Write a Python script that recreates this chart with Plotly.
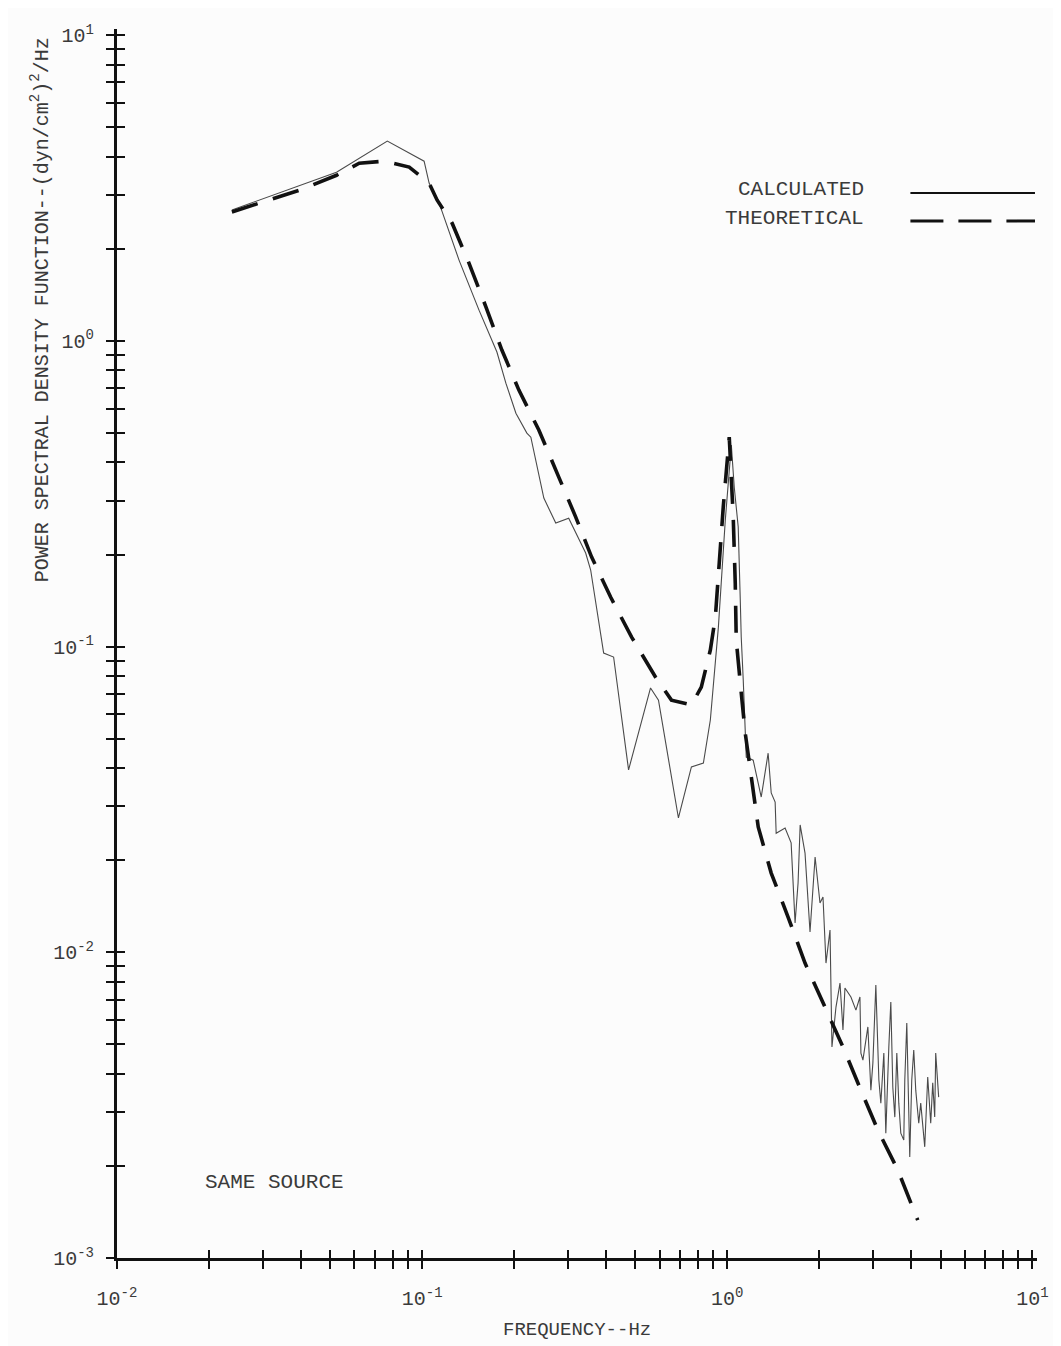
import plotly.graph_objects as go

# ---- data ----
calc_freq = [0.0238, 0.0524, 0.0769, 0.1015, 0.1054, 0.1137, 0.1321, 0.1536, 0.1758, 0.1881,
             0.2029, 0.2204, 0.2271, 0.2505, 0.2741, 0.3022, 0.3435, 0.3567, 0.3934, 0.4241,
             0.4748, 0.5604, 0.5950, 0.6916, 0.7628, 0.835, 0.880, 0.935, 0.985, 1.031,
             1.054, 1.086, 1.103, 1.111, 1.128, 1.154, 1.216, 1.292, 1.361, 1.393,
             1.435, 1.446, 1.547, 1.619, 1.668, 1.706, 1.733, 1.798, 1.867, 1.940,
             2.013, 2.059, 2.106, 2.171, 2.203, 2.271, 2.341, 2.394, 2.430, 2.542,
             2.640, 2.721, 2.741, 2.783, 2.889, 2.955, 3.000, 3.068, 3.139, 3.186,
             3.259, 3.308, 3.384, 3.435, 3.487, 3.540, 3.594, 3.648, 3.704, 3.788,
             3.817, 3.875, 3.963, 4.023, 4.084, 4.146, 4.241, 4.305, 4.437, 4.538,
             4.642, 4.713, 4.784, 4.820, 4.929]
calc_psd = [2.68, 3.56, 4.50, 3.87, 3.28, 2.82, 1.837, 1.26, 0.919, 0.727,
            0.580, 0.499, 0.484, 0.306, 0.2534, 0.263, 0.2022, 0.178, 0.0952, 0.0924,
            0.0395, 0.0732, 0.0668, 0.0275, 0.0404, 0.0416, 0.0575, 0.1158, 0.259, 0.456,
            0.332, 0.246, 0.142, 0.1074, 0.0777, 0.0435, 0.0425, 0.0322, 0.0448, 0.0332,
            0.0310, 0.0245, 0.0255, 0.0228, 0.01247, 0.01684, 0.0261, 0.0211, 0.01165, 0.0205,
            0.01449, 0.01516, 0.00922, 0.01182, 0.0049, 0.00662, 0.00793, 0.00557, 0.00764, 0.00714,
            0.00647, 0.00714, 0.00468, 0.00444, 0.0057, 0.00354, 0.00434, 0.00781, 0.00382, 0.00321,
            0.00468, 0.00256, 0.0049, 0.00688, 0.00362, 0.00289, 0.00468, 0.00321, 0.00256, 0.00243,
            0.00382, 0.00587, 0.00214, 0.00382, 0.00479, 0.00354, 0.00276, 0.00321, 0.00231, 0.00391,
            0.00276, 0.00374, 0.00289, 0.00468, 0.00336]

theo_freq = [0.0238, 0.0396, 0.0524, 0.0622, 0.0751, 0.0907, 0.1054, 0.1119, 0.1253, 0.1424,
             0.1619, 0.1825, 0.2075, 0.2412, 0.2804, 0.3187, 0.3593, 0.4146, 0.4858, 0.5816,
             0.6561, 0.7628, 0.822, 0.880, 0.914, 0.935, 0.970, 1.015, 1.046, 1.062,
             1.070, 1.103, 1.145, 1.263, 1.393, 1.582, 1.798, 2.090, 2.394, 2.741,
             3.115, 3.621, 4.209]
theo_psd = [2.64, 3.11, 3.48, 3.81, 3.87, 3.70, 3.28, 2.89, 2.43, 1.796,
            1.29, 0.933, 0.690, 0.511, 0.3584, 0.2652, 0.1962, 0.1452, 0.1074, 0.0795,
            0.0668, 0.0644, 0.0737, 0.0974, 0.1249, 0.174, 0.286, 0.484, 0.2652, 0.1613,
            0.1050, 0.0760, 0.0521, 0.0257, 0.01816, 0.01304, 0.00922, 0.00662, 0.0049, 0.00354,
            0.00262, 0.00194, 0.00133]

x_tickvals = [0.01, 0.1, 1, 10]
x_ticktext = ["10<sup>-2</sup>", "10<sup>-1</sup>", "10<sup>0</sup>", "10<sup>1</sup>"]
y_tickvals = [0.001, 0.01, 0.1, 1, 10]
y_ticktext = ["10<sup>-3</sup>", "10<sup>-2</sup>", "10<sup>-1</sup>", "10<sup>0</sup>", "10<sup>1</sup>"]

series_names = ["CALCULATED", "THEORETICAL"]
note_text = "SAME SOURCE"
x_title = "FREQUENCY--Hz"
y_title = "POWER SPECTRAL DENSITY FUNCTION--(dyn/cm<sup>2</sup>)<sup>2</sup>/Hz"

# ---- styling ----
FONT = "Liberation Mono"
INK = "#111111"
TXT = "#3a3a3a"
BG = "#fcfcfc"
THEO_DASH = "27px,16px"

x_minor = [m * 10.0 ** e for e in (-2, -1, 0) for m in range(2, 10)]
y_minor = [m * 10.0 ** e for e in (-3, -2, -1, 0) for m in range(2, 10)]

fig = go.Figure()
fig.add_trace(go.Scatter(x=calc_freq, y=calc_psd, mode="lines", name=series_names[0],
                         line=dict(color="#4a4a4a", width=1.1), showlegend=False))
fig.add_trace(go.Scatter(x=theo_freq, y=theo_psd, mode="lines", name=series_names[1],
                         line=dict(color=INK, width=3.6, dash=THEO_DASH), showlegend=False))
# helper trace so the overlay axes (inner half of the cross ticks) are drawn
fig.add_trace(go.Scatter(x=[None], y=[None], xaxis="x2", yaxis="y2", mode="lines",
                         showlegend=False, hoverinfo="skip"))

tick_common = dict(ticklen=8, tickwidth=2, tickcolor=INK)
XR = [-2, 1.015]
YR = [-3, 1.02]

fig.update_layout(
    width=1053, height=1338,
    margin=dict(l=109, r=21, t=21, b=88),
    paper_bgcolor=BG, plot_bgcolor=BG,
    font=dict(family=FONT, color=TXT),
    xaxis=dict(type="log", range=XR, showgrid=False, zeroline=False,
               showline=True, linecolor=INK, linewidth=3,
               ticks="outside", tickvals=x_tickvals, ticktext=x_ticktext,
               tickfont=dict(family=FONT, size=20, color=TXT), ticklabelstandoff=12,
               minor=dict(ticks="outside", tickvals=x_minor, showgrid=False, **tick_common),
               **tick_common),
    yaxis=dict(type="log", range=YR, showgrid=False, zeroline=False,
               showline=True, linecolor=INK, linewidth=3,
               ticks="outside", tickvals=y_tickvals, ticktext=y_ticktext,
               tickfont=dict(family=FONT, size=20, color=TXT), ticklabelstandoff=8,
               minor=dict(ticks="outside", tickvals=y_minor, showgrid=False, **tick_common),
               **tick_common),
    xaxis2=dict(type="log", range=XR, overlaying="x", anchor="y", side="bottom",
                showgrid=False, zeroline=False, showline=False, showticklabels=False,
                ticks="inside", tickvals=x_tickvals,
                minor=dict(ticks="inside", tickvals=x_minor, showgrid=False, **tick_common),
                **tick_common),
    yaxis2=dict(type="log", range=YR, overlaying="y", anchor="x", side="left",
                showgrid=False, zeroline=False, showline=False, showticklabels=False,
                ticks="inside", tickvals=y_tickvals,
                minor=dict(ticks="inside", tickvals=y_minor, showgrid=False, **tick_common),
                **tick_common),
)

annots = [
    dict(text=series_names[0], x=0.8137, y=0.869, xanchor="right", yanchor="middle"),
    dict(text=series_names[1], x=0.8137, y=0.846, xanchor="right", yanchor="middle"),
    dict(text=note_text, x=0.0932, y=0.0618, xanchor="left", yanchor="middle"),
]
for a in annots:
    fig.add_annotation(xref="paper", yref="paper", showarrow=False,
                       font=dict(family=FONT, size=21, color=TXT), **a)

fig.add_annotation(xref="paper", yref="paper", x=0.5, y=-0.0586, text=x_title,
                   showarrow=False, xanchor="center", yanchor="middle",
                   font=dict(family=FONT, size=19, color=TXT))
fig.add_annotation(xref="paper", yref="paper", x=-0.0834, y=0.7714, text=y_title,
                   showarrow=False, textangle=-90, xanchor="center", yanchor="middle",
                   font=dict(family=FONT, size=20, color=TXT))

# legend key samples (drawn to the right of the labels, as in the original)
fig.add_shape(type="line", xref="paper", yref="paper", x0=0.8624, x1=0.9978, y0=0.8666, y1=0.8666,
              line=dict(color=INK, width=2))
fig.add_shape(type="line", xref="paper", yref="paper", x0=0.8624, x1=0.9978, y0=0.8438, y1=0.8438,
              line=dict(color=INK, width=3, dash="33px,15px"))

fig.write_html("out.html")
